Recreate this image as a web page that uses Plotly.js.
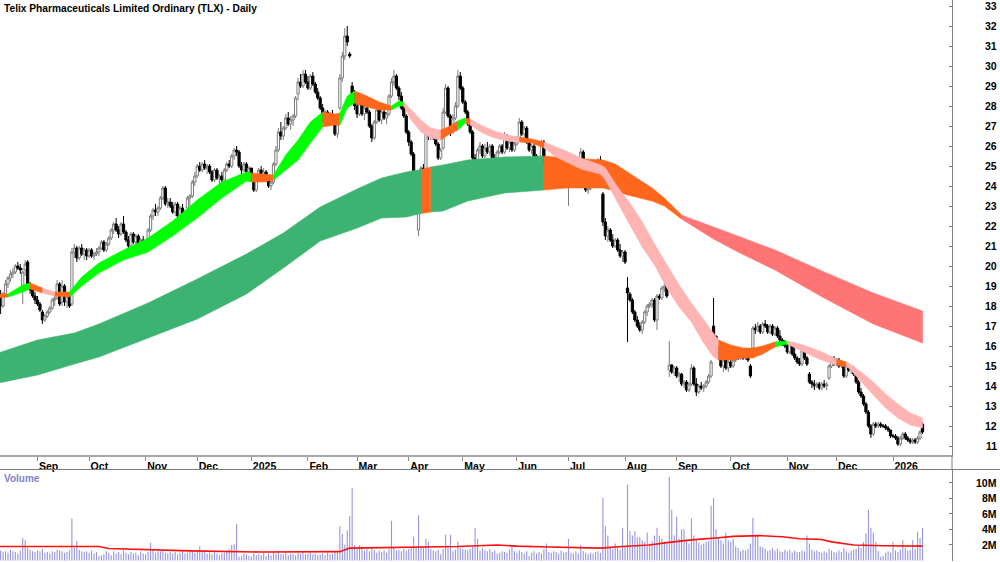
<!DOCTYPE html>
<html><head><meta charset="utf-8">
<script src="https://cdn.plot.ly/plotly-3.0.1.min.js"></script>
<style>html,body{margin:0;padding:0;background:#fff;}#chart{width:1000px;height:562px;}</style>
</head><body><div id="chart"></div><script>
// ---------- DATA ----------
const firstDay = '2024-08-12';
const openP = [
18.6,18.0,18.6,19.1,19.4,
19.6,19.7,20.0,19.9,19.0,
19.8,20.2,19.0,18.8,18.5,
18.3,18.1,17.7,17.3,17.5,
17.7,17.9,18.3,18.4,19.1,
18.2,19.0,18.2,18.5,18.1,
20.7,20.9,20.4,20.9,20.6,
20.8,20.5,20.8,20.5,20.6,
20.7,20.9,21.2,20.8,21.1,
21.4,21.8,22.1,21.8,21.6,
22.1,21.7,21.3,21.0,21.6,
21.2,21.5,21.0,21.3,21.1,
20.9,21.8,22.5,22.8,22.7,
22.9,23.4,23.9,23.1,23.2,
23.0,22.7,23.1,22.5,22.9,
22.4,22.9,23.4,23.5,24.2,
24.5,25.0,24.8,25.1,24.9,
25.0,24.7,24.3,24.8,24.4,
24.5,24.3,24.8,25.1,25.0,
25.5,25.8,25.7,25.0,24.8,
25.1,24.7,24.9,24.3,23.8,
24.3,24.8,24.4,24.7,24.3,
24.0,24.2,25.1,25.8,26.7,
26.5,26.9,27.4,27.1,27.3,
27.5,28.6,29.2,29.0,29.6,
29.2,28.9,29.5,29.1,28.7,
28.4,27.9,27.3,27.7,27.2,
27.6,27.3,26.6,27.9,29.4,
30.5,31.5,30.6,29.0,28.6,
28.0,27.6,28.1,27.6,27.9,
27.7,27.0,26.4,27.2,27.8,
27.3,27.7,27.4,27.6,28.5,
29.2,29.5,28.9,28.5,27.9,
27.5,26.7,26.2,25.6,24.6,
21.8,23.1,24.9,24.2,26.7,
26.5,26.7,26.4,26.1,25.4,
25.9,27.7,28.9,27.5,26.7,
27.4,28.0,29.5,28.9,28.2,
27.7,27.1,26.7,25.4,24.6,
25.8,26.0,25.5,25.9,25.7,
26.0,25.4,25.0,25.7,26.0,
25.7,26.5,25.9,26.2,25.8,
26.1,26.4,27.2,26.6,26.9,
26.2,25.8,26.0,25.5,25.0,
25.3,26.2,25.1,24.6,24.9,
24.3,24.8,24.3,24.7,24.4,
24.6,24.1,24.6,24.1,24.4,
24.1,24.3,25.7,24.2,23.8,
23.9,24.5,24.1,24.8,25.3,
23.6,22.2,21.5,21.8,21.3,
21.0,21.3,20.8,20.5,20.7,
18.9,18.6,18.3,17.7,17.3,
17.0,16.8,17.2,17.7,18.0,
18.1,18.3,17.3,18.5,18.4,
18.9,19.0,14.8,15.05,14.7,
14.9,14.5,14.6,14.1,14.2,
13.8,14.1,14.9,14.1,13.7,
14.0,13.9,14.0,14.2,14.5,
17.0,16.5,15.9,15.4,15.0,
15.3,14.9,15.2,15.0,15.3,
15.8,15.4,15.7,15.4,15.6,
15.0,15.9,16.9,16.8,17.0,
16.7,17.1,17.0,16.7,17.0,
16.6,16.9,16.5,16.3,16.1,
16.0,15.7,16.1,15.6,15.4,
15.2,15.1,15.8,15.4,14.6,
14.2,14.1,14.0,14.1,13.9,
14.1,14.0,14.4,15.0,15.4,
15.2,15.3,15.0,15.0,14.5,
15.0,14.8,14.9,14.6,14.2,
13.7,13.5,13.1,12.7,12.0,
11.6,12.1,12.0,12.1,12.0,
12.0,11.9,11.8,11.5,11.5,
11.4,11.1,11.4,11.6,11.4,
11.3,11.2,11.3,11.2,11.4,
12.1];
const highP = [
18.8,18.7,19.3,19.5,19.8,
19.9,20.1,20.2,20.1,19.9,
20.3,20.3,19.2,18.9,18.7,
18.5,18.2,17.8,17.6,17.8,
18.0,18.4,18.5,19.3,19.2,
19.3,19.1,18.6,18.6,20.9,
21.1,21.0,21.0,21.1,20.9,
20.9,20.9,20.9,20.7,20.9,
21.0,21.3,21.3,21.2,21.5,
21.9,22.2,22.4,22.0,22.2,
22.5,21.8,21.5,21.7,21.7,
21.6,21.6,21.4,21.5,21.3,
21.9,22.6,22.9,23.1,23.0,
23.5,24.0,24.0,23.4,23.4,
23.2,23.2,23.2,23.0,23.1,
22.8,23.5,23.6,24.3,24.7,
25.1,25.2,25.2,25.3,25.1,
25.1,24.8,24.9,24.9,24.6,
24.7,24.9,25.2,25.3,25.6,
25.9,26.0,25.8,25.2,25.2,
25.2,25.0,24.9,24.4,24.4,
24.9,25.0,24.9,24.8,24.5,
24.3,25.2,26.0,26.9,27.2,
27.0,27.6,27.7,27.5,27.6,
28.5,29.4,29.6,29.8,29.8,
29.5,29.6,29.7,29.2,28.9,
28.5,28.1,27.8,27.8,27.7,
27.8,27.4,27.2,29.6,30.7,
31.9,32.0,30.7,29.2,28.8,
28.3,28.2,28.2,28.0,28.1,
27.8,27.1,27.3,27.9,27.9,
27.8,27.9,27.7,28.6,29.4,
29.8,29.6,29.0,28.7,28.0,
27.6,26.8,26.3,25.7,24.7,
23.3,25.0,25.1,26.9,26.9,
26.8,26.8,26.6,26.2,25.9,
27.9,29.1,29.0,27.6,27.6,
28.2,29.8,29.7,29.0,28.3,
27.8,27.3,26.8,25.6,25.9,
26.2,26.1,26.1,26.2,26.1,
26.1,25.6,25.8,26.1,26.1,
26.7,26.6,26.3,26.3,26.2,
26.5,27.4,27.3,27.0,27.0,
26.3,26.1,26.1,25.6,25.4,
26.3,26.3,25.2,25.0,25.0,
24.9,24.9,24.8,24.9,24.8,
24.8,24.7,24.7,24.5,24.5,
24.4,25.9,25.8,24.3,24.0,
24.6,24.6,24.9,25.4,25.5,
23.7,22.4,22.0,21.9,21.6,
21.4,21.4,21.1,20.8,20.8,
19.45,18.7,18.4,17.8,17.5,
17.2,17.3,17.8,18.1,18.2,
18.4,18.4,18.6,18.6,19.0,
19.2,19.1,16.25,15.1,15.0,
15.0,14.7,14.65,14.3,14.3,
14.2,15.1,15.0,14.4,14.1,
14.2,14.1,14.3,14.6,15.3,
18.4,16.5,16.0,15.5,15.4,
15.4,15.3,15.4,15.4,15.9,
15.9,15.8,15.8,15.8,15.8,
15.1,17.0,17.1,17.2,17.1,
17.2,17.3,17.1,17.1,17.1,
17.0,17.0,16.8,16.4,16.3,
16.1,16.2,16.2,16.0,15.5,
15.4,15.9,15.9,15.5,14.7,
14.3,14.3,14.2,14.2,14.2,
14.3,14.2,15.1,15.5,15.5,
15.4,15.4,15.3,15.0,15.1,
15.1,15.0,15.0,14.7,14.3,
13.9,13.6,13.2,12.8,12.1,
12.2,12.2,12.2,12.2,12.1,
12.1,12.0,11.8,11.6,11.6,
11.5,11.5,11.7,11.7,11.5,
11.4,11.4,11.4,11.5,11.8,
12.2];
const lowP = [
17.6,17.9,18.5,18.9,19.2,
19.4,19.6,19.8,19.6,18.1,
19.5,18.8,18.6,18.4,18.1,
18.0,17.7,17.1,17.2,17.4,
17.6,17.8,18.0,18.3,18.0,
18.0,18.0,17.9,17.9,18.0,
20.4,20.2,20.3,20.5,20.3,
20.3,20.4,20.4,20.3,20.5,
20.5,20.8,20.7,20.7,21.0,
21.3,21.6,21.7,21.4,21.5,
21.6,21.2,20.9,20.9,21.1,
21.0,20.9,20.8,21.0,20.8,
20.8,21.7,22.3,22.5,22.5,
22.8,23.3,23.0,22.9,22.9,
22.6,22.5,22.4,22.4,22.3,
22.3,22.8,23.0,23.4,24.0,
24.4,24.7,24.7,24.8,24.6,
24.6,24.2,24.2,24.3,24.1,
24.1,24.2,24.7,24.9,24.9,
25.3,25.5,24.9,24.6,24.7,
24.6,24.5,24.2,23.7,23.7,
24.2,24.3,24.3,24.2,23.9,
23.8,24.1,25.0,25.7,26.3,
26.3,26.8,27.0,26.8,27.0,
27.4,28.3,28.9,28.9,29.1,
28.8,28.8,29.0,28.6,28.3,
27.8,27.2,27.1,27.1,27.0,
27.1,26.5,26.4,27.8,29.2,
30.3,31.0,30.4,28.5,27.8,
27.4,27.5,27.5,27.3,27.6,
26.9,26.2,26.3,27.1,27.2,
27.1,27.3,27.1,27.5,28.4,
29.0,28.8,28.3,27.8,27.4,
26.6,26.0,25.5,24.5,23.7,
21.5,23.0,24.0,24.1,26.3,
26.3,26.3,26.0,25.3,25.3,
25.8,27.6,27.4,26.5,26.6,
27.3,27.9,28.8,28.1,27.6,
27.0,26.6,25.3,24.4,24.5,
25.6,25.4,25.4,25.6,25.5,
25.3,24.9,24.9,25.6,25.6,
25.6,25.8,25.7,25.7,25.7,
26.0,26.3,26.5,26.2,26.1,
25.7,25.6,25.4,24.9,24.9,
25.2,25.0,24.5,24.4,24.2,
24.2,24.2,24.1,24.3,24.2,
24.0,23.0,24.0,23.9,24.0,
23.9,24.2,24.1,23.7,23.6,
23.8,24.0,24.0,24.7,24.9,
22.0,21.3,21.2,21.2,20.9,
20.9,20.7,20.4,20.2,20.1,
16.2,18.2,17.6,17.2,16.9,
16.7,16.6,17.1,17.5,17.9,
17.9,17.2,16.8,18.3,18.3,
18.7,18.4,14.45,14.6,14.5,
14.4,14.2,14.0,13.9,13.7,
13.7,14.0,14.0,13.5,13.6,
13.8,13.7,13.9,14.1,14.4,
16.3,15.8,15.3,14.9,14.7,
14.8,14.7,14.9,14.9,15.2,
15.3,15.3,15.3,15.3,15.2,
14.4,15.8,16.6,16.7,16.6,
16.6,16.9,16.6,16.6,16.5,
16.5,16.4,16.2,16.0,15.9,
15.6,15.6,15.5,15.3,15.1,
15.0,15.0,15.3,15.0,14.1,
13.9,13.8,13.9,13.8,13.8,
13.9,13.8,14.3,14.9,15.0,
15.0,14.9,14.9,14.4,14.4,
14.7,14.6,14.5,14.1,13.6,
13.4,13.0,12.6,11.9,11.4,
11.5,11.9,11.9,11.9,11.9,
11.8,11.7,11.4,11.4,11.3,
11.0,11.0,11.3,11.3,11.2,
11.1,11.1,11.1,11.1,11.3,
11.6];
const closeP = [
18.0,18.6,19.1,19.4,19.6,
19.7,20.0,19.9,19.8,19.7,
20.1,19.0,18.8,18.5,18.3,
18.1,17.8,17.3,17.5,17.7,
17.9,18.3,18.4,19.1,18.1,
19.0,18.2,18.5,18.0,20.7,
20.9,20.4,20.9,20.6,20.8,
20.5,20.8,20.5,20.6,20.7,
20.9,21.2,20.8,21.1,21.4,
21.8,22.1,21.8,21.6,22.1,
21.7,21.3,21.0,21.6,21.2,
21.5,21.0,21.3,21.1,20.9,
21.8,22.5,22.8,22.7,22.9,
23.4,23.9,23.1,23.2,23.0,
22.7,23.1,22.5,22.9,22.4,
22.7,23.4,23.5,24.2,24.5,
25.0,24.8,25.1,24.9,25.0,
24.7,24.3,24.8,24.4,24.5,
24.3,24.8,25.1,25.0,25.5,
25.8,25.7,25.0,24.8,25.1,
24.7,24.9,24.3,23.8,24.3,
24.8,24.4,24.7,24.3,24.0,
24.2,25.1,25.8,26.7,26.5,
26.9,27.4,27.1,27.3,27.5,
28.4,29.2,29.0,29.6,29.2,
28.9,29.5,29.1,28.7,28.4,
27.9,27.3,27.7,27.2,27.6,
27.3,26.6,27.1,29.4,30.5,
31.5,31.2,30.5,28.6,28.0,
27.6,28.1,27.6,27.9,27.7,
27.0,26.4,27.2,27.8,27.3,
27.7,27.4,27.6,28.5,29.2,
29.5,28.9,28.5,27.9,27.5,
26.7,26.2,25.6,24.6,23.8,
23.1,24.9,24.2,26.7,26.5,
26.7,26.4,26.1,25.4,25.8,
27.7,28.9,27.5,26.7,27.4,
28.0,29.5,28.9,28.2,27.7,
27.1,26.7,25.4,24.6,25.8,
26.0,25.5,25.9,25.7,26.0,
25.4,25.0,25.7,26.0,25.7,
26.5,25.9,26.2,25.8,26.1,
26.4,27.2,26.6,26.9,26.2,
25.8,26.0,25.5,25.0,25.3,
26.2,25.1,24.6,24.9,24.3,
24.8,24.3,24.7,24.4,24.6,
24.1,24.6,24.1,24.4,24.1,
24.3,25.7,24.2,23.8,23.9,
24.5,24.1,24.8,25.3,25.0,
22.2,21.5,21.8,21.3,21.0,
21.3,20.8,20.5,20.7,20.2,
18.65,18.3,17.7,17.3,17.0,
16.8,17.2,17.7,18.0,18.1,
18.3,17.3,18.5,18.4,18.9,
19.0,18.5,15.05,14.7,14.9,
14.5,14.6,14.1,14.2,13.8,
14.1,14.9,14.1,13.7,14.0,
13.9,14.0,14.2,14.5,15.2,
16.5,15.9,15.4,15.0,15.3,
14.9,15.2,15.0,15.3,15.8,
15.4,15.7,15.4,15.6,15.3,
14.5,16.9,16.8,17.0,16.7,
17.1,17.0,16.7,17.0,16.6,
16.9,16.5,16.3,16.1,16.0,
15.7,16.1,15.6,15.4,15.2,
15.1,15.8,15.4,15.1,14.2,
14.1,14.0,14.1,13.9,14.1,
14.0,14.1,15.0,15.4,15.2,
15.3,15.0,15.2,14.5,15.0,
14.8,14.9,14.6,14.2,13.7,
13.5,13.1,12.7,12.0,11.6,
12.1,12.0,12.1,12.0,12.0,
11.9,11.8,11.5,11.5,11.4,
11.1,11.4,11.6,11.4,11.3,
11.2,11.3,11.2,11.4,11.7,
11.7];
const volumeM = [
1.3,1.1,1.2,1.0,1.4,
1.2,1.1,0.9,1.3,2.9,
2.6,1.6,1.4,1.2,1.1,
1.3,1.2,1.5,1.0,1.1,
0.9,1.2,1.1,1.4,1.3,
1.2,1.0,1.1,1.3,5.4,
1.6,2.5,1.4,1.2,1.1,
1.2,1.0,1.3,0.9,1.1,
0.6,0.7,0.8,1.2,1.0,
0.7,1.2,0.9,1.1,0.8,
1.3,1.0,0.8,1.1,0.9,
1.0,0.7,1.2,0.9,0.8,
1.1,2.3,1.4,1.0,1.2,
1.2,1.3,1.0,0.9,1.1,
0.9,1.1,0.8,1.0,1.2,
0.9,1.0,1.1,1.2,1.0,
1.3,1.8,1.2,1.1,0.9,
1.0,0.8,1.1,0.9,0.7,
0.9,1.0,1.3,1.5,2.0,
2.1,4.7,0.5,0.6,0.9,
0.8,0.6,0.5,0.9,0.7,
0.8,0.7,1.0,0.6,0.9,
0.7,1.1,0.9,1.3,0.8,
0.8,1.0,0.7,0.9,0.8,
0.7,1.0,0.9,1.1,0.8,
0.9,1.0,0.8,0.9,0.7,
0.8,0.9,0.7,1.0,0.8,
0.9,1.1,1.0,4.4,3.4,
2.0,3.9,5.7,9.3,2.0,
1.5,2.0,1.8,1.3,1.5,
1.2,1.7,1.4,1.0,1.3,
1.1,1.3,1.0,1.5,5.1,
1.6,1.3,1.4,1.2,1.5,
1.3,1.5,1.6,3.1,1.8,
5.8,1.7,1.6,2.8,2.4,
1.5,1.3,1.2,1.4,0.8,
1.5,3.3,2.0,3.3,1.2,
1.4,2.4,1.6,1.5,1.4,
1.3,1.5,1.8,4.2,2.8,
1.3,1.6,1.4,1.2,1.5,
1.1,1.3,0.9,1.0,1.2,
1.1,1.0,1.4,1.9,1.2,
1.0,1.3,1.1,0.9,1.2,
0.6,1.0,1.2,0.9,1.1,
0.9,1.5,2.2,1.1,1.0,
1.2,1.1,0.9,1.3,1.0,
1.1,2.8,1.0,0.9,1.2,
0.9,2.0,1.2,1.0,0.8,
1.0,0.9,1.1,1.2,1.0,
8.0,4.4,3.2,1.8,1.5,
2.2,1.6,1.4,4.2,1.8,
9.7,3.8,3.2,3.8,3.0,
3.0,2.6,2.4,3.6,2.2,
2.5,3.2,4.2,3.2,2.8,
2.4,2.2,10.7,6.5,3.2,
5.6,2.8,4.0,4.0,2.7,
2.2,5.4,3.2,2.6,2.3,
2.0,2.2,2.4,2.5,7.0,
8.0,4.0,3.0,2.6,2.2,
3.6,2.6,2.4,2.8,1.8,
1.6,1.2,1.4,1.3,1.5,
2.2,5.5,3.2,3.2,1.8,
1.7,1.5,1.2,1.4,1.6,
1.3,1.5,1.2,1.1,1.4,
1.2,1.4,1.0,1.3,1.1,
1.1,1.3,1.2,3.2,2.2,
1.4,1.2,1.3,1.1,1.0,
1.2,1.0,1.5,1.3,1.1,
1.0,1.3,1.1,1.6,1.2,
1.0,1.3,1.4,1.5,1.9,
1.6,2.4,3.5,6.5,4.2,
3.6,2.4,1.2,0.5,0.6,
1.0,1.2,1.0,2.4,1.3,
1.1,1.4,2.6,1.6,1.3,
1.4,2.6,1.5,3.7,2.9,
4.2];
// volume moving average (red line), millions
const volMaDates = ['2024-08-09','2024-10-07','2024-10-11','2024-10-30','2024-11-27','2025-01-07','2025-02-20','2025-02-26','2025-03-26','2025-04-29','2025-05-21','2025-06-02','2025-06-19','2025-07-09','2025-07-18','2025-07-31','2025-08-15','2025-08-26','2025-09-09','2025-09-23','2025-10-02','2025-10-17','2025-10-30','2025-11-10','2025-11-21','2025-11-27','2025-12-10','2025-12-26','2026-01-19'];
const volMa = [1.8,1.8,1.55,1.4,1.25,1.1,1.15,1.6,1.65,1.8,2.0,1.85,1.75,1.6,1.6,1.8,2.0,2.3,2.65,2.9,3.1,3.2,3.05,2.8,2.7,2.4,2.0,1.9,1.85];

// short-term MA ribbon (top, bottom, trend state)
const shortDates = ['2024-08-09','2024-08-15','2024-08-23','2024-08-28','2024-09-04','2024-09-11','2024-09-19','2024-09-26','2024-10-07','2024-10-21','2024-11-04','2024-11-18','2024-12-02','2024-12-16','2024-12-30','2025-01-01','2025-01-08','2025-01-14','2025-01-21','2025-01-28','2025-02-04','2025-02-11','2025-02-18','2025-02-20','2025-02-25','2025-02-28','2025-03-07','2025-03-14','2025-03-21','2025-03-26','2025-03-28','2025-04-02','2025-04-08','2025-04-14','2025-04-18','2025-04-23','2025-04-29','2025-05-02','2025-05-06','2025-05-13','2025-05-20','2025-05-27','2025-06-03','2025-06-10','2025-06-17','2025-06-24','2025-07-01','2025-07-08','2025-07-15','2025-07-18','2025-07-22','2025-07-29','2025-08-05','2025-08-12','2025-08-19','2025-08-26','2025-09-02','2025-09-09','2025-09-16','2025-09-22','2025-09-24','2025-10-01','2025-10-08','2025-10-14','2025-10-20','2025-10-27','2025-11-03','2025-11-10','2025-11-17','2025-11-24','2025-12-01','2025-12-05','2025-12-08','2025-12-15','2025-12-22','2025-12-29','2026-01-05','2026-01-12','2026-01-19'];
const shortTop = [18.6,18.6,19.05,19.15,18.9,18.7,18.7,19.45,20.15,20.8,21.4,22.25,23.3,24.2,24.7,24.65,24.6,24.55,25.55,26.3,27.2,27.7,27.6,27.65,28.5,28.75,28.5,28.2,28.0,28.25,28.2,27.8,27.3,26.9,26.8,26.95,27.25,27.4,27.35,27.0,26.75,26.55,26.45,26.35,26.2,25.95,25.7,25.4,25.2,25.05,24.9,23.95,23.15,22.2,21.1,20.05,19.05,18.15,17.3,16.65,16.3,16.05,15.9,15.9,16.0,16.2,16.25,16.1,15.9,15.65,15.35,15.2,15.15,14.7,14.2,13.6,13.1,12.65,12.4];
const shortBot = [18.4,18.45,18.7,18.85,18.65,18.5,18.45,19.0,19.65,20.3,20.7,21.5,22.4,23.4,24.25,24.2,24.2,24.3,24.8,25.3,26.15,26.95,27.05,27.05,27.9,28.15,27.95,27.8,27.8,28.0,28.0,27.3,26.7,26.4,26.3,26.55,26.8,27.15,27.05,26.65,26.4,26.25,26.2,26.15,25.9,25.45,25.15,24.85,24.7,24.6,24.3,23.15,22.05,20.95,20.05,18.9,17.95,17.2,16.15,15.45,15.3,15.3,15.4,15.4,15.6,15.95,16.1,15.8,15.5,15.25,15.05,14.95,14.9,14.25,13.55,12.9,12.4,12.05,11.9];
const shortState = ['mix','up','up','mix','down','mix','up','up','up','up','up','up','up','up','up','mix','mix','up','up','up','up','mix','mix','up','up','mix','mix','mix','up','up','down','down','down','down','mix','mix','up','mix','down','down','down','down','mix','mix','down','down','down','down','down','down','down','down','down','down','down','down','down','down','down','down','mix','mix','mix','mix','mix','up','down','down','down','down','mix','down','down','down','down','down','down','down','down'];

// long-term MA ribbon
const longDates = ['2024-08-09','2024-09-02','2024-09-23','2024-10-07','2024-11-04','2024-12-02','2024-12-30','2025-01-20','2025-02-10','2025-03-03','2025-03-17','2025-03-31','2025-04-08','2025-04-14','2025-04-21','2025-05-05','2025-05-26','2025-06-17','2025-06-30','2025-07-21','2025-07-28','2025-08-04','2025-08-11','2025-08-18','2025-08-25','2025-09-03','2025-09-08','2025-09-22','2025-10-06','2025-10-27','2025-11-24','2025-12-22','2026-01-19'];
const longTop = [15.65,16.3,16.65,17.1,18.15,19.35,20.6,21.65,22.95,23.85,24.4,24.7,24.82,24.95,25.05,25.3,25.45,25.5,25.4,25.3,25.1,24.7,24.3,23.9,23.4,22.55,22.4,21.95,21.5,20.8,19.7,18.65,17.75];
const longBot = [14.15,14.55,15.1,15.45,16.4,17.35,18.6,19.9,21.25,21.9,22.4,22.45,22.62,22.7,22.75,23.25,23.65,23.8,23.9,23.9,23.75,23.55,23.4,23.25,23.0,22.35,22.1,21.35,20.7,19.8,18.4,17.1,16.15];
const longState = ['up','up','up','up','up','up','up','up','up','up','up','up','mix','up','up','up','up','mix','mix','mix','mix','mix','mix','mix','mix','down','down','down','down','down','down','down','down'];

const monthTicks = ['2024-09-02','2024-10-01','2024-11-01','2024-12-02','2025-01-01','2025-02-03','2025-03-03','2025-04-01','2025-05-01','2025-06-02','2025-07-01','2025-08-01','2025-09-01','2025-10-01','2025-11-03','2025-12-01','2026-01-01'];
const monthLabels = ['Sep','Oct','Nov','Dec','2025','Feb','Mar','Apr','May','Jun','Jul','Aug','Sep','Oct','Nov','Dec','2026'];
const priceTicks = [11,12,13,14,15,16,17,18,19,20,21,22,23,24,25,26,27,28,29,30,31,32,33];
const volTicks = [2,4,6,8,10];

// ---------- BUILD ----------
function weekdays(start, n){
  const out=[]; const d=new Date(start+'T00:00:00Z');
  while(out.length<n){ const wd=d.getUTCDay(); if(wd!==0&&wd!==6) out.push(d.toISOString().slice(0,10)); d.setUTCDate(d.getUTCDate()+1); }
  return out;
}
const dates = weekdays(firstDay, closeP.length);

const W=1000,H=562,mL=0,mR=48,mT=0,mB=1;
const plotW=W-mL-mR, plotH=H-mT-mB;
const py = p => 1-(p-mT)/plotH;
const pxX = p => (p-mL)/plotW;

const shortColors = {up:'#00ff00', mix:'#ff681c', down:'#ffb4b4'};
const longColors = {up:'#3cb371', mix:'#ff681c', down:'#ff7474'};

function ribbonTraces(ds, top, bot, st, colors){
  const tr=[]; let s=0;
  for(let i=1;i<=ds.length;i++){
    if(i===ds.length || st[i]!==st[s]){
      const e=Math.min(i, ds.length-1);
      if(e>s){
        const xs=ds.slice(s,e+1), yt=top.slice(s,e+1), yb=bot.slice(s,e+1);
        tr.push({type:'scatter', mode:'lines', x:xs.concat(xs.slice().reverse()), y:yt.concat(yb.slice().reverse()),
          fill:'toself', fillcolor:colors[st[s]], line:{width:0.6, color:colors[st[s]]}, hoverinfo:'skip', showlegend:false, xaxis:'x', yaxis:'y'});
      }
      s=i;
    }
  }
  return tr;
}

const traces = [].concat(
  ribbonTraces(longDates, longTop, longBot, longState, longColors),
  ribbonTraces(shortDates, shortTop, shortBot, shortState, shortColors),
  [{type:'candlestick', x:dates, open:openP, high:highP, low:lowP, close:closeP, xaxis:'x', yaxis:'y',
    increasing:{line:{color:'#7c7c7c', width:1}, fillcolor:'#ffffff'},
    decreasing:{line:{color:'#000000', width:1}, fillcolor:'#000000'},
    whiskerwidth:0, hoverinfo:'skip', showlegend:false},
   {type:'bar', x:dates, y:volumeM, xaxis:'x', yaxis:'y2', marker:{color:'#9696e0', line:{width:0}}, hoverinfo:'skip', showlegend:false},
   {type:'scatter', mode:'lines', x:volMaDates, y:volMa, xaxis:'x', yaxis:'y2', line:{color:'#ff1010', width:1.6}, hoverinfo:'skip', showlegend:false}]
);

const fontFam = 'Liberation Sans, Arial, sans-serif';
const boldFont = {family:fontFam, size:10.5, color:'#000', weight:'bold'};
const annotations = [
  {xref:'paper', yref:'paper', x:pxX(2), y:py(1), xanchor:'left', yanchor:'top', showarrow:false,
   text:'Telix Pharmaceuticals Limited Ordinary (TLX) - Daily', font:{family:fontFam, size:10.2, color:'#000', weight:'bold'}},
  {xref:'paper', yref:'paper', x:pxX(2), y:py(471), xanchor:'left', yanchor:'top', showarrow:false,
   text:'Volume', font:{family:fontFam, size:10, color:'#8282c8', weight:'bold'}}
].concat(volTicks.map(v => ({xref:'paper', yref:'y2', x:pxX(999), y:v, xanchor:'right', yanchor:'middle', showarrow:false,
   text:v+'M', font:boldFont})))
 .concat(priceTicks.map(v => ({xref:'paper', yref:'y', x:pxX(999), y:v, xanchor:'right', yanchor:'middle', showarrow:false,
   text:String(v), font:boldFont})));

const layout = {
  width:W, height:H, margin:{l:mL, r:mR, t:mT, b:mB}, paper_bgcolor:'#ffffff', plot_bgcolor:'#ffffff',
  showlegend:false, bargap:0.55, boxgap:0.1, boxgroupgap:0, dragmode:false,
  font:{family:fontFam, size:10.5, color:'#000'},
  xaxis:{type:'date', range:['2024-08-09 18:00','2026-02-04'], rangebreaks:[{bounds:['sat','mon']}],
    tickvals:monthTicks, ticktext:monthLabels, ticks:'outside', ticklen:4, tickcolor:'#8a8a8a', tickwidth:1,
    ticklabelposition:'outside right', showline:true, linecolor:'#a8a8a8', linewidth:2, showgrid:false, zeroline:false,
    tickfont:boldFont, rangeslider:{visible:false}, fixedrange:true, anchor:'y'},
  yaxis:{domain:[py(455),1], range:[10.55,33.3], side:'right', tickvals:priceTicks, ticks:'inside', ticklen:3,
    tickcolor:'#808080', showticklabels:false, showline:true, linecolor:'#808080', linewidth:1, showgrid:false, zeroline:false,
    fixedrange:true, anchor:'x'},
  yaxis2:{domain:[0,py(470)], range:[-0.05,11.6], side:'right', tickvals:volTicks, ticks:'inside', ticklen:3,
    tickcolor:'#808080', showticklabels:false, showline:true, linecolor:'#808080', linewidth:1, showgrid:false, zeroline:false,
    fixedrange:true, anchor:'x'},
  shapes:[
    {type:'line', xref:'paper', yref:'paper', x0:0, x1:pxX(1000), y0:py(469.5), y1:py(469.5), line:{color:'#7a7a7a', width:1}},
    {type:'line', xref:'paper', yref:'paper', x0:1, x1:1, y0:py(470), y1:py(455), line:{color:'#808080', width:1}}
  ],
  annotations:annotations
};

Plotly.newPlot('chart', traces, layout, {staticPlot:true, displayModeBar:false});
</script></body></html>
